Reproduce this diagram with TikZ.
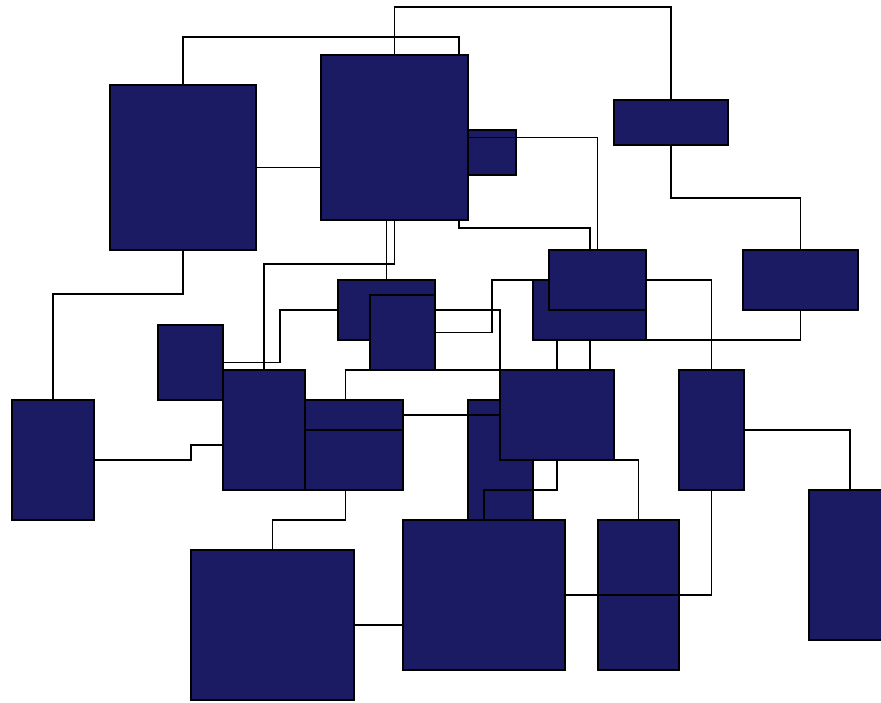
\documentclass[tikz,border=0pt]{standalone}
\usepackage{tikz}
\usepackage{xcolor}
\usetikzlibrary{positioning}
\definecolor{boxnavy}{RGB}{27,27,100}
\pgfdeclarelayer{front}
\pgfsetlayers{main,front}
\begin{document}
\begin{tikzpicture}[
x=1pt,y=-1pt,
box/.style={draw=black,fill=boxnavy,line width=1.8pt,rectangle,inner sep=0pt,outer sep=0pt,anchor=north west},
link/.style={draw=black,line width=1.6pt}
]
\clip (0,0) rectangle (881,702);
\node[box,minimum width=146pt,minimum height=165pt] (upleft) at (110,85) {};
\node[box,minimum width=147pt,minimum height=165pt] (upmid) at (321,55) {};
\node[box,minimum width=48pt,minimum height=45pt] (tab) at (468,130) {};
\node[box,minimum width=114pt,minimum height=45pt] (upright) at (614,100) {};
\node[box,minimum width=115pt,minimum height=60pt] (farright) at (743,250) {};
\node[box,minimum width=113pt,minimum height=60pt] (hubbase) at (533,280) {};
\node[box,minimum width=97pt,minimum height=60pt] (hubtop) at (549,250) {};
\node[box,minimum width=97pt,minimum height=60pt] (midback) at (338,280) {};
\node[box,minimum width=65pt,minimum height=75pt] (midfront) at (370,295) {};
\node[box,minimum width=65pt,minimum height=75pt] (small) at (158,325) {};
\node[box,minimum width=98pt,minimum height=30pt] (strip) at (305,400) {};
\node[box,minimum width=115pt,minimum height=60pt] (slab) at (288,430) {};
\node[box,minimum width=82pt,minimum height=120pt] (tall) at (223,370) {};
\node[box,minimum width=65pt,minimum height=120pt] (narrow) at (468,400) {};
\begin{pgfonlayer}{front}
\node[box,minimum width=114pt,minimum height=90pt] (core) at (500,370) {};
\end{pgfonlayer}
\node[box,minimum width=162pt,minimum height=150pt] (bigbase) at (403,520) {};
\node[box,minimum width=81pt,minimum height=150pt] (pillar) at (598,520) {};
\node[box,minimum width=65pt,minimum height=120pt] (post) at (679,370) {};
\node[box,minimum width=82pt,minimum height=150pt] (edge) at (809,490) {};
\node[box,minimum width=82pt,minimum height=120pt] (leftpost) at (12,400) {};
\node[box,minimum width=163pt,minimum height=150pt] (lowleft) at (191,550) {};
% connectors
\draw[link] (upleft.north) -- ++(0,-48) -| ([xshift=138pt]upmid.north west);
\draw[link] (upmid.north) -- ++(0,-48) -| (upright.north);
\draw[link] (upleft.east) -- (upleft.east -| upmid.west);
\draw[link] (upmid.east) -| (hubtop.north);
\draw[link] ([xshift=138pt]upmid.south west) -- ++(0,8) -| ([xshift=41pt]hubtop.north west);
\draw[link] (midback.north |- upmid.south) -- (midback.north);
\draw[link] (upmid.south) -- ++(0,44) -| (tall.north);
\draw[link] (upright.south) -- ++(0,53) -| (farright.north);
\draw[link] (farright.south) |- (hubbase.south east);
\draw[link] (hubtop.east) -| (post.north);
\draw[link] ([xshift=57pt]hubbase.south west) -- ++(0,30);
\draw[link] ([xshift=24pt]hubbase.south west) -- ++(0,150) -| (bigbase.north);
\draw[link] (narrow.east) -| (pillar.north);
\draw[link] (bigbase.east) -| (post.south);
\draw[link] (lowleft.east) -- (lowleft.east -| bigbase.west);
\draw[link] (slab.south) -- ++(0,30) -| (lowleft.north);
\draw[link] (upleft.south) -- ++(0,44) -| (leftpost.north);
\draw[link] (leftpost.east) -- ++(97,0) |- ([yshift=-15pt]tall.west);
\draw[link] (small.east) -- ++(57,0) |- (midback.west);
\draw[link] (midfront.east |- midback.west) -| (core.north west);
\draw[link] (midfront.east) -- ++(57,0) |- (hubbase.north west);
\draw[link] (core.north west) -| (slab.north |- strip.north);
\draw[link] (strip.east) -- (strip.east -| core.west);
\draw[link] (post.east) -| (edge.north);
\end{tikzpicture}
\end{document}
